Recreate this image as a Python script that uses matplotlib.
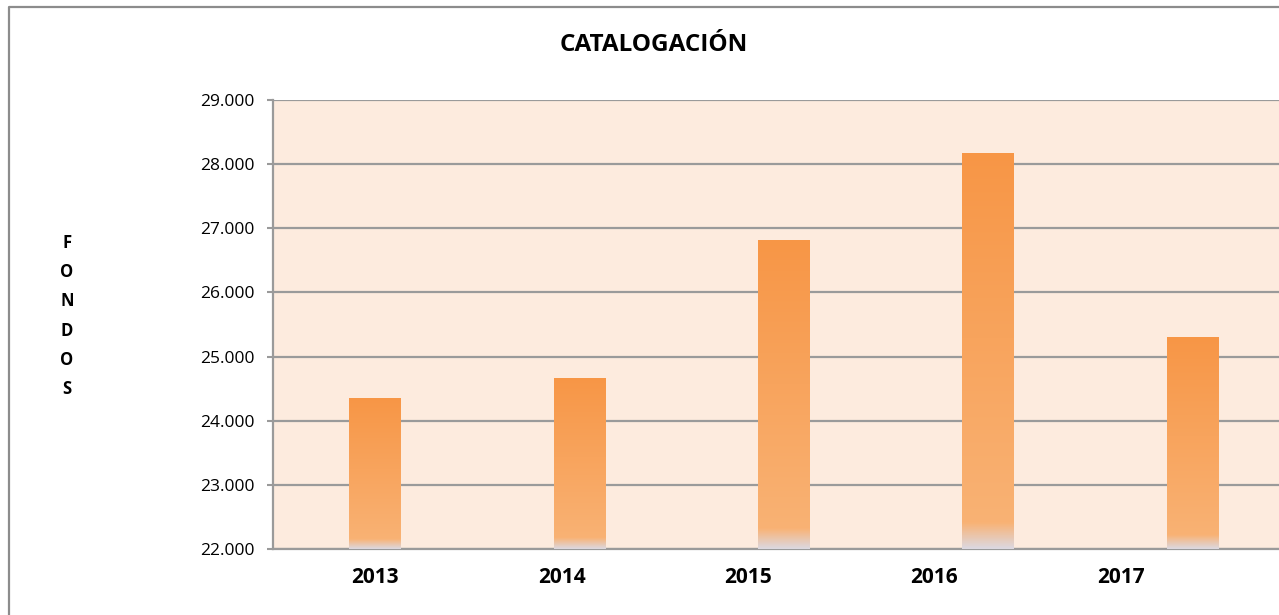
import matplotlib
matplotlib.use("Agg")
import matplotlib.pyplot as plt
import numpy as np
from matplotlib.colors import LinearSegmentedColormap
from matplotlib.lines import Line2D

# data
years = ["2013", "2014", "2015", "2016", "2017"]
fondos = [24350, 24670, 26820, 28175, 25305]
y_ticks = [22000, 23000, 24000, 25000, 26000, 27000, 28000, 29000]

# styles
PANEL = "#FDEBDE"
GRID = "#9A9A9A"
BORDER = "#8C8C8C"
ORANGE_TOP = "#F79646"
ORANGE_LOW = "#F9B274"
FADE = "#DCD8E0"
LABEL_STEP = 0.912  # year labels sit slightly left of their bars, as in the original

plt.rcParams["font.family"] = ["Open Sans", "DejaVu Sans"]

fig = plt.figure(figsize=(12.79, 6.15), dpi=100)
fig.patch.set_facecolor("white")

W, H = 1279, 615
ax = fig.add_axes([273 / W, 1 - 549 / H, (1295 - 273) / W, 449 / H])
ax.set_facecolor(PANEL)

y_min, y_max = y_ticks[0], y_ticks[-1]
x = np.arange(len(years))
bars = ax.bar(x, np.array(fondos) - y_min, bottom=y_min, width=0.254,
              color="none", edgecolor="none", zorder=3)

cmap = LinearSegmentedColormap.from_list(
    "bar", [(0.0, FADE), (0.065, ORANGE_LOW), (1.0, ORANGE_TOP)])
grad = np.linspace(0, 1, 512).reshape(-1, 1)
for r in bars:
    x0, y0, w, h = r.get_x(), r.get_y(), r.get_width(), r.get_height()
    im = ax.imshow(grad, cmap=cmap, origin="lower", aspect="auto",
                   interpolation="bilinear",
                   extent=[x0, x0 + w, y0, y0 + h], zorder=3)
    im.set_clip_path(r)

ax.set_xlim(-0.5, len(years) - 0.5)
ax.set_ylim(y_min, y_max)
ax.set_yticks(y_ticks)
ax.set_yticklabels([f"{v:,.0f}".replace(",", ".") for v in y_ticks])
ax.set_xticks(x * LABEL_STEP)
ax.set_xticklabels(years, fontsize=15, fontweight="bold")

ax.grid(axis="y", color=GRID, linewidth=1.6, zorder=1)
ax.set_axisbelow(True)
ax.tick_params(axis="y", length=4.5, width=1.5, color=GRID, pad=9,
               labelsize=12.5, labelcolor="black")
ax.tick_params(axis="x", length=0, pad=13)
for sp in ["top", "right"]:
    ax.spines[sp].set_visible(False)
for sp in ["left", "bottom"]:
    ax.spines[sp].set_color(GRID)
    ax.spines[sp].set_linewidth(1.6)

fig.text(654 / W, 1 - 45 / H, "CATALOGACIÓN", fontsize=17.5, fontweight="bold",
         ha="center", va="center")
fig.text(67 / W, 1 - 316 / H, "\n".join("FONDOS"), fontsize=12,
         fontweight="bold", ha="center", va="center", linespacing=1.8)

# outer chart border (right and bottom edges fall outside the picture)
fig.add_artist(Line2D([9 / W, 9 / W, 1.0], [0.0, 1 - 7 / H, 1 - 7 / H],
                      transform=fig.transFigure, color=BORDER, linewidth=1.6))

fig.savefig("out.png", dpi=100)
